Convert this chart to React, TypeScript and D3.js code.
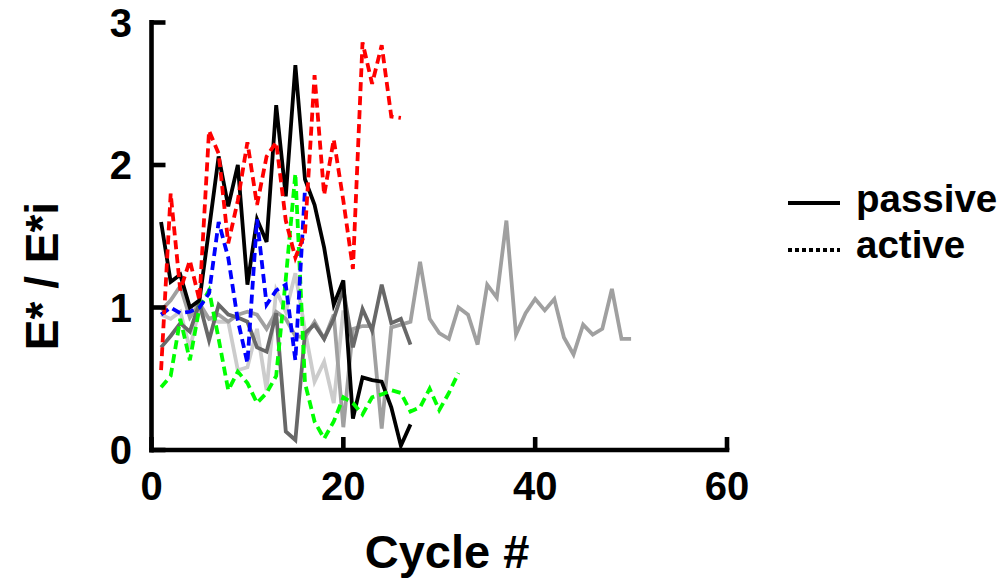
import React from 'react';
import * as d3 from 'd3';

const xTicks = [0, 20, 40, 60];
const yTicks = [0, 1, 2, 3];

// values for cycles 1..n
const passiveBlack = [1.6, 1.18, 1.23, 1.0, 1.05, 1.55, 2.06, 1.71, 2.0, 1.16, 1.62, 1.46, 2.42, 1.78, 2.7, 1.9, 1.72, 1.42, 1.02, 1.19, 0.22, 0.51, 0.49, 0.48, 0.3, 0.03, 0.18];
const passiveDark = [0.72, 0.8, 0.89, 0.83, 1.03, 0.77, 1.02, 0.95, 0.93, 0.9, 0.72, 0.69, 0.96, 0.13, 0.07, 0.82, 0.88, 0.78, 0.92, 1.13, 0.72, 0.99, 0.84, 1.16, 0.89, 0.92, 0.74];
const passiveGray = [0.98, 1.05, 1.15, 0.93, 1.03, 0.92, 0.95, 0.9, 0.95, 0.97, 0.95, 0.85, 0.97, 0.92, 0.8, 0.79, 0.9, 0.78, 0.95, 0.16, 0.85, 0.87, 0.87, 0.15, 0.86, 0.88, 0.9, 1.32, 0.92, 0.82, 0.78, 1.0, 0.95, 0.74, 1.16, 1.07, 1.61, 0.81, 0.96, 1.06, 0.98, 1.06, 0.79, 0.67, 0.88, 0.81, 0.85, 1.13, 0.78, 0.78];
const passiveLight = [0.95, 0.92, 0.97, 0.71, 1.0, 0.92, 0.9, 0.9, 0.56, 0.58, 0.85, 0.42, 1.12, 0.97, 1.24, 0.84, 0.48, 0.62, 0.33, 0.98];
const activeRed = [0.56, 1.8, 1.12, 1.33, 1.05, 2.24, 2.08, 1.45, 1.75, 2.16, 1.72, 2.06, 2.16, 1.61, 1.35, 1.52, 2.63, 1.79, 2.18, 1.75, 1.27, 2.86, 2.57, 2.84, 2.34, 2.33];
const activeBlue = [0.95, 1.0, 0.96, 0.97, 1.0, 1.1, 1.6, 1.35, 0.91, 0.61, 1.62, 1.02, 1.12, 1.16, 0.63, 1.83];
const activeGreen = [0.44, 0.52, 0.92, 0.63, 1.0, 1.12, 0.78, 0.42, 0.55, 0.47, 0.33, 0.4, 0.52, 1.2, 1.94, 0.47, 0.2, 0.08, 0.2, 0.37, 0.33, 0.25, 0.37, 0.39, 0.42, 0.4, 0.27, 0.3, 0.43, 0.28, 0.4, 0.54];

const seriesList = [
  { name: 'light', values: passiveLight, color: '#cccccc', dashed: false },
  { name: 'gray', values: passiveGray, color: '#a0a0a0', dashed: false },
  { name: 'dark', values: passiveDark, color: '#686868', dashed: false },
  { name: 'black', values: passiveBlack, color: '#000000', dashed: false },
  { name: 'green', values: activeGreen, color: '#00ff00', dashed: true },
  { name: 'blue', values: activeBlue, color: '#0000ff', dashed: true },
  { name: 'red', values: activeRed, color: '#ff0000', dashed: true },
];

const FONT = '"Liberation Sans", Arial, Helvetica, sans-serif';

export default function App() {
  const x = d3.scaleLinear().domain([0, 60]).range([151.5, 727]);
  const y = d3.scaleLinear().domain([0, 3]).range([450, 22.5]);
  const line = d3
    .line<number>()
    .x((_, i) => x(i + 1))
    .y((d) => y(d));

  return (
    <svg
      width={1004}
      height={581}
      style={{ position: 'absolute', left: 0, top: 0, background: '#fff' }}
      fontFamily={FONT}
      fontWeight="bold"
    >
      <rect x={0} y={0} width={1004} height={581} fill="#fff" />
      {seriesList.map((s) => (
        <path
          key={s.name}
          d={line(s.values) || ''}
          fill="none"
          stroke={s.color}
          strokeWidth={3.8}
          strokeDasharray={s.dashed ? '9 5' : undefined}
          strokeLinejoin="miter"
        />
      ))}
      {/* axes */}
      <line x1={x(0)} x2={x(0)} y1={y(3) - 2.5} y2={y(0) + 2.5} stroke="#000" strokeWidth={4.6} />
      <line x1={x(0) - 2.3} x2={x(60) + 2.3} y1={y(0)} y2={y(0)} stroke="#000" strokeWidth={4.6} />
      {yTicks.map((t) => (
        <g key={'y' + t}>
          <line x1={x(0)} x2={x(0) + 14} y1={y(t)} y2={y(t)} stroke="#000" strokeWidth={4.6} />
          <text x={132} y={y(t)} dy="0.36em" textAnchor="end" fontSize={40}>
            {t}
          </text>
        </g>
      ))}
      {xTicks.map((t) => (
        <g key={'x' + t}>
          <line x1={x(t)} x2={x(t)} y1={y(0)} y2={y(0) - 13} stroke="#000" strokeWidth={4.6} />
          <text x={x(t)} y={500} textAnchor="middle" fontSize={40}>
            {t}
          </text>
        </g>
      ))}
      <text x={447} y={568} textAnchor="middle" fontSize={47}>
        Cycle #
      </text>
      <text
        transform={`translate(58, 276) rotate(-90)`}
        textAnchor="middle"
        fontSize={46}
      >
        E* / E*i
      </text>
      {/* legend */}
      <line x1={788} x2={840} y1={203} y2={203} stroke="#000" strokeWidth={4} />
      <text x={856} y={212} fontSize={38.5}>
        passive
      </text>
      <line x1={788} x2={840} y1={250} y2={250} stroke="#000" strokeWidth={4} strokeDasharray="4 3" />
      <text x={856} y={258} fontSize={38.5}>
        active
      </text>
    </svg>
  );
}
